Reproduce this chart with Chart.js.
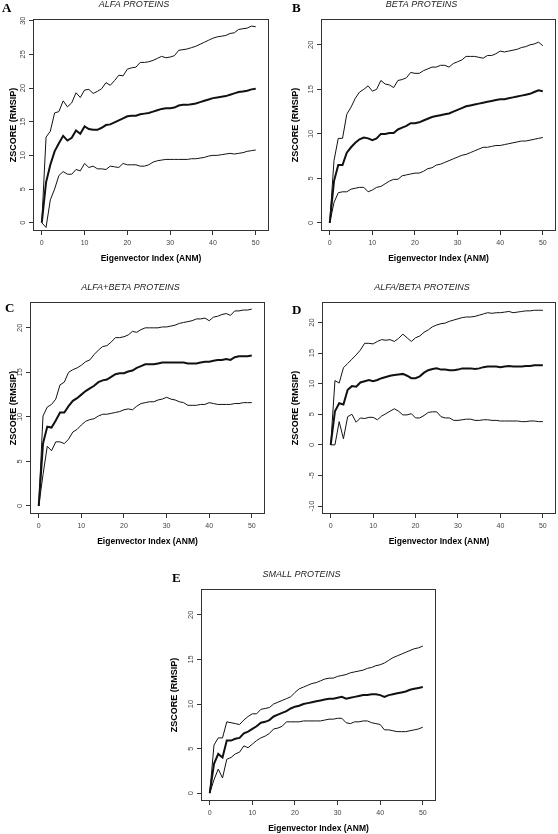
<!DOCTYPE html>
<html><head><meta charset="utf-8">
<script src="https://cdn.jsdelivr.net/npm/chart.js@4.4.0/dist/chart.umd.min.js"></script>
<style>
html,body{margin:0;padding:0;background:#fff;width:558px;height:834px;overflow:hidden;position:relative}
.lbl{position:absolute;font:bold 13px "Liberation Serif","Times New Roman",serif;line-height:13px;color:#000}
</style></head><body>
<script>
// ---------- DATA ----------
const eigenIndex = [0,1,2,3,4,5,6,7,8,9,10,11,12,13,14,15,16,17,18,19,20,21,22,23,24,25,26,27,28,29,30,31,32,33,34,35,36,37,38,39,40,41,42,43,44,45,46,47,48,49,50];
const xTickValues = [0,10,20,30,40,50];

const alfaUpper  = [0,12.7,13.6,16.3,16.5,18.1,17.2,17.8,19.3,18.6,19.7,19.8,19.2,19.5,19.9,20.8,20.4,21.1,21.9,21.8,22.8,23.0,23.1,23.8,23.8,23.9,24.1,24.4,24.7,24.5,24.6,24.8,25.6,25.7,25.8,26.0,26.2,26.5,26.8,27.1,27.4,27.6,27.7,27.8,28.1,28.2,28.7,28.8,28.9,29.2,29.1];
const alfaMiddle = [0,6.0,8.6,10.6,11.8,12.9,12.2,12.6,13.7,13.2,14.3,13.9,13.8,13.8,14.1,14.5,14.6,14.9,15.2,15.5,15.8,15.9,15.9,16.1,16.2,16.3,16.5,16.7,16.9,17.0,17.0,17.1,17.4,17.5,17.5,17.6,17.7,17.9,18.1,18.3,18.5,18.6,18.7,18.8,19.0,19.2,19.4,19.5,19.6,19.8,19.9];
const alfaLower  = [0,-0.7,3.4,5.0,7.0,7.6,7.2,7.2,7.9,7.7,8.8,8.2,8.4,8.0,8.0,7.9,8.4,8.3,8.2,8.8,8.6,8.6,8.6,8.4,8.4,8.6,9.0,9.2,9.3,9.4,9.4,9.4,9.4,9.4,9.4,9.5,9.5,9.6,9.7,9.9,10.0,10.0,10.1,10.2,10.3,10.2,10.3,10.4,10.6,10.7,10.8];
const alfaYTicks = [0,5,10,15,20,25,30];

const betaUpper  = [0,7.0,9.5,9.5,12.2,13.0,14.0,14.7,15.0,15.4,14.8,15.0,16.0,15.6,15.5,15.2,16.0,16.1,16.3,16.9,16.8,16.8,17.1,17.3,17.5,17.5,17.7,17.7,17.5,17.9,18.1,18.3,18.7,18.7,18.7,18.6,18.5,18.8,18.8,19.0,19.3,19.2,19.3,19.4,19.5,19.7,19.8,20.0,20.1,20.3,19.9];
const betaMiddle = [0,4.7,6.5,6.5,7.9,8.5,9.0,9.4,9.6,9.5,9.3,9.5,10.0,10.0,10.1,10.1,10.5,10.7,10.9,11.2,11.2,11.3,11.5,11.7,11.9,12.0,12.1,12.2,12.3,12.5,12.7,12.9,13.1,13.2,13.3,13.4,13.5,13.6,13.7,13.8,13.9,13.9,14.0,14.1,14.2,14.3,14.4,14.5,14.7,14.9,14.8];
const betaLower  = [0,2.3,3.4,3.5,3.5,3.8,3.9,4.0,4.0,3.5,3.7,4.0,4.1,4.4,4.7,4.9,4.9,5.3,5.4,5.5,5.6,5.6,5.8,6.1,6.2,6.5,6.6,6.8,7.0,7.2,7.4,7.6,7.7,7.9,8.1,8.3,8.5,8.5,8.6,8.7,8.7,8.8,8.9,9.0,9.1,9.2,9.2,9.3,9.4,9.5,9.6];
const betaYTicks = [0,5,10,15,20];

const alfaPlusBetaUpper  = [0,10.1,11.1,11.4,12.0,13.6,13.9,15.0,15.3,15.5,15.8,16.2,16.4,17.0,17.5,17.9,18.0,18.4,18.9,18.9,19.0,19.2,19.6,19.5,19.8,20.0,20.0,20.0,20.0,20.1,20.1,20.2,20.3,20.5,20.6,20.7,20.8,21.0,21.0,21.1,20.8,21.2,21.3,21.5,21.6,21.4,21.9,21.9,22.0,22.0,22.1];
const alfaPlusBetaMiddle = [0,7.0,8.9,8.8,9.6,10.5,10.5,11.2,11.8,12.1,12.5,12.9,13.2,13.5,13.9,14.1,14.2,14.5,14.8,14.9,14.9,15.1,15.2,15.5,15.7,15.9,15.9,15.9,16.0,16.1,16.1,16.1,16.1,16.1,16.1,16.0,16.0,16.0,16.1,16.2,16.2,16.3,16.4,16.4,16.5,16.4,16.7,16.8,16.8,16.8,16.9];
const alfaPlusBetaLower  = [0,3.5,6.7,6.2,7.2,7.2,7.0,7.5,8.3,8.6,9.1,9.5,9.7,9.8,10.1,10.3,10.3,10.4,10.5,10.6,10.8,10.9,10.8,11.2,11.5,11.6,11.7,11.7,11.9,12.0,12.2,12.0,11.9,11.7,11.6,11.3,11.3,11.3,11.4,11.4,11.6,11.5,11.4,11.4,11.4,11.4,11.5,11.5,11.6,11.6,11.6];
const alfaPlusBetaYTicks = [0,5,10,15,20];

const alfaSlashBetaUpper  = [0,10.5,10.1,12.6,13.3,14.0,14.7,15.5,16.6,16.6,16.5,16.9,17.2,17.1,17.2,16.9,17.4,18.1,17.5,16.9,17.5,17.8,18.4,18.8,19.3,19.6,19.8,19.9,20.2,20.4,20.6,20.8,20.9,20.9,21.0,21.2,21.4,21.6,21.5,21.6,21.6,21.7,21.8,21.6,21.7,21.8,21.9,21.9,22.0,22.0,22.0];
const alfaSlashBetaMiddle = [0,5.5,6.8,6.6,9.0,9.6,9.5,10.2,10.4,10.6,10.4,10.6,10.9,11.1,11.3,11.4,11.5,11.6,11.3,10.9,10.9,11.2,11.8,12.2,12.4,12.5,12.3,12.3,12.2,12.2,12.3,12.5,12.5,12.5,12.4,12.5,12.7,12.8,12.8,12.8,12.7,12.8,12.9,12.8,12.8,12.8,12.9,12.9,13.0,13.0,13.0];
const alfaSlashBetaLower  = [0,0,3.8,1.0,4.6,5.0,3.7,4.4,4.3,4.5,4.5,4.1,4.7,5.1,5.5,5.9,5.5,4.9,4.9,5.1,4.4,4.4,4.8,5.3,5.4,5.4,4.6,4.4,4.4,4.0,4.0,4.1,4.2,4.2,4.0,4.0,4.1,4.1,4.0,4.0,3.9,3.9,3.9,3.9,3.9,3.8,3.8,3.9,3.9,3.8,3.8];
const alfaSlashBetaYTicks = [-10,-5,0,5,10,15,20];

const smallUpper  = [0,5.4,6.2,6.2,8.0,7.9,7.8,7.7,8.2,8.6,8.9,8.9,9.4,9.5,9.6,10.0,10.2,10.4,10.6,10.8,11.3,11.7,11.9,12.1,12.3,12.4,12.6,12.8,12.9,12.9,13.1,13.2,13.3,13.5,13.6,13.7,13.8,14.0,14.1,14.3,14.4,14.6,14.9,15.2,15.4,15.6,15.8,16.0,16.2,16.3,16.5];
const smallMiddle = [0,3.3,4.4,4.0,5.9,5.9,6.1,6.2,6.7,6.9,7.2,7.5,7.9,8.0,8.2,8.6,8.8,9.0,9.2,9.5,9.7,9.8,10.0,10.1,10.2,10.3,10.4,10.5,10.6,10.6,10.7,10.8,10.6,10.7,10.8,10.9,11.0,11.0,11.1,11.1,11.0,10.8,11.0,11.1,11.2,11.3,11.4,11.6,11.7,11.8,11.9];
const smallLower  = [0,1.5,2.7,1.7,3.8,4.0,4.4,4.6,5.3,5.1,5.5,5.9,6.2,6.4,6.7,7.2,7.3,7.5,8.0,8.0,8.0,8.0,8.1,8.1,8.1,8.1,8.1,8.2,8.3,8.3,8.4,8.4,7.9,7.8,8.0,8.0,8.1,8.1,7.9,7.8,7.7,7.1,7.1,7.0,6.9,6.9,6.9,7.0,7.1,7.2,7.4];
const smallYTicks = [0,5,10,15,20];

const panelTitles = ['ALFA PROTEINS','BETA PROTEINS','ALFA+BETA PROTEINS','ALFA/BETA PROTEINS','SMALL PROTEINS'];
const panelLetters = ['A','B','C','D','E'];
const xAxisTitle = 'Eigenvector Index (ANM)';
const yAxisTitle = 'ZSCORE (RMSIP)';

// ---------- LAYOUT (page pixels) ----------
const FF = '"Liberation Sans", Arial, sans-serif';
const L = 34, R = 34, T = 22, B = 40;
const layouts = [
  {box:[33,19,269,231],   yRange:[-1.23,30.25], yTitleX:14,    yTickPad:1.8, letter:[2,1]},
  {box:[321,19,556,231],  yRange:[-0.9,22.9],   yTitleX:295.7, yTickPad:1.8, letter:[292,1]},
  {box:[30,302,265,514],  yRange:[-0.9,22.9],   yTitleX:13.5,  yTickPad:1.8, letter:[5,301]},
  {box:[322,302,556,514], yRange:[-11.3,23.35], yTitleX:295.7, yTickPad:0.6, letter:[292,303]},
  {box:[201,589,436,801], yRange:[-0.88,22.9],  yTitleX:175,   yTickPad:1.8, letter:[172,571]}
];
const series = [
  [alfaUpper, alfaMiddle, alfaLower, alfaYTicks],
  [betaUpper, betaMiddle, betaLower, betaYTicks],
  [alfaPlusBetaUpper, alfaPlusBetaMiddle, alfaPlusBetaLower, alfaPlusBetaYTicks],
  [alfaSlashBetaUpper, alfaSlashBetaMiddle, alfaSlashBetaLower, alfaSlashBetaYTicks],
  [smallUpper, smallMiddle, smallLower, smallYTicks]
];

const boxPlugin = {
  id: 'rbox',
  afterDatasetsDraw(chart) {
    const {ctx, chartArea: a} = chart;
    ctx.save();
    ctx.strokeStyle = '#333';
    ctx.lineWidth = 1;
    ctx.strokeRect(Math.round(a.left) + 0.5, Math.round(a.top) + 0.5, Math.round(a.right - a.left) - 1, Math.round(a.bottom - a.top) - 1);
    ctx.restore();
  }
};

function makePanel(i) {
  const lay = layouts[i];
  const [up, mid, low, yTicks] = series[i];
  const [bl, bt, br, bb] = lay.box;
  const w = br - bl + L + R, h = bb - bt + T + B;
  const c = document.createElement('canvas');
  c.width = w; c.height = h;
  c.style.cssText = `position:absolute;left:${bl - L}px;top:${bt - T}px;width:${w}px;height:${h}px`;
  document.body.appendChild(c);

  const lbl = document.createElement('div');
  lbl.className = 'lbl';
  lbl.textContent = panelLetters[i];
  lbl.style.left = lay.letter[0] + 'px';
  lbl.style.top = lay.letter[1] + 'px';
  document.body.appendChild(lbl);

  const mk = (vals, bw) => ({
    data: eigenIndex.map((x, k) => ({x: x, y: vals[k]})),
    borderColor: '#111', borderWidth: bw, pointRadius: 0, tension: 0, fill: false
  });
  const yTitleSize = 9;
  const yTitlePad = (lay.yTitleX - (bl - L)) - yTitleSize * 1.2 / 2;
  const gridOpts = {display: true, drawOnChartArea: false, drawTicks: true, tickLength: 4, tickColor: '#333', tickWidth: 1};

  new Chart(c, {
    type: 'line',
    data: {datasets: [mk(up, 1), mk(mid, 2), mk(low, 1)]},
    options: {
      responsive: false, animation: false, devicePixelRatio: 1,
      layout: {padding: {top: 0, left: 0, right: R, bottom: 0}},
      plugins: {
        legend: {display: false}, tooltip: {enabled: false},
        title: {display: true, text: panelTitles[i], color: '#222',
          font: {family: FF, size: 9, style: 'italic', weight: 'normal'},
          padding: {top: 2.1, bottom: 9.1}}
      },
      scales: {
        x: {
          type: 'linear', min: -2.05, max: 53.1,
          afterBuildTicks: s => { s.ticks = xTickValues.map(v => ({value: v})); },
          afterFit: s => { s.height = B; },
          grid: gridOpts, border: {display: false},
          ticks: {autoSkip: false, maxRotation: 0, minRotation: 0, color: '#444', padding: 3.5, font: {family: FF, size: 7}},
          title: {display: true, text: xAxisTitle, color: '#000', font: {family: FF, size: 8.5, weight: 'bold'}, padding: {top: 0, bottom: 7.6}}
        },
        y: {
          type: 'linear', min: lay.yRange[0], max: lay.yRange[1],
          afterBuildTicks: s => { s.ticks = yTicks.map(v => ({value: v})); },
          afterFit: s => { s.width = L; },
          grid: gridOpts, border: {display: false},
          ticks: {autoSkip: false, minRotation: 90, maxRotation: 90, crossAlign: 'center', color: '#444', padding: lay.yTickPad, font: {family: FF, size: 7.5}},
          title: {display: true, text: yAxisTitle, color: '#000', font: {family: FF, size: yTitleSize, weight: 'bold'}, padding: {top: yTitlePad, bottom: 0}}
        }
      }
    },
    plugins: [boxPlugin]
  });
}
for (let i = 0; i < 5; i++) makePanel(i);
</script>
</body></html>
